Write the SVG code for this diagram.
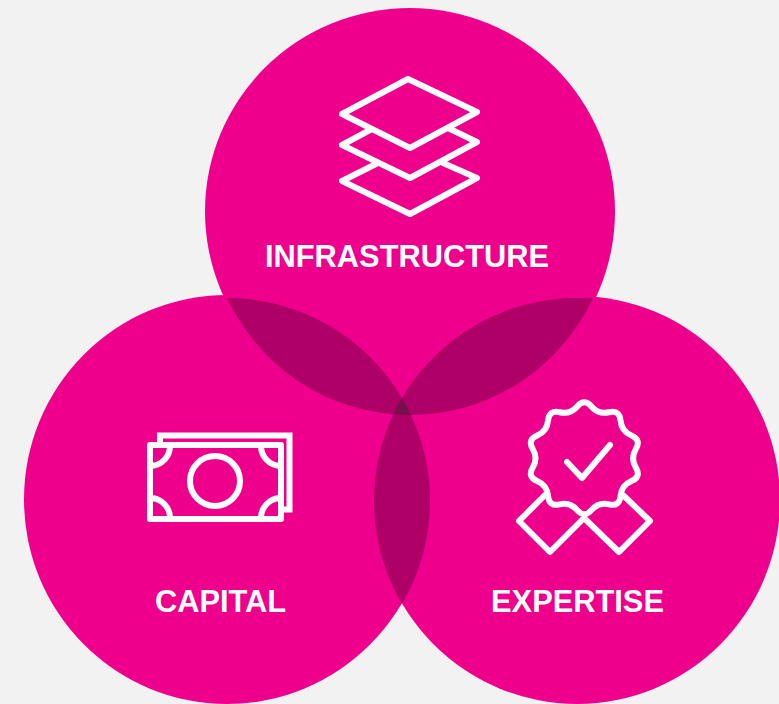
<svg xmlns="http://www.w3.org/2000/svg" width="779" height="704" viewBox="0 0 779 704">
<style>
.ic{fill:none;stroke:#fff;stroke-width:6;stroke-linejoin:round;stroke-linecap:round}
.bk{fill:none;stroke:#fff;stroke-width:6;stroke-linejoin:miter;stroke-linecap:butt}
.lb{font-family:"Liberation Sans",Arial,sans-serif;font-weight:700;font-size:30.8px;fill:#fff;text-anchor:middle}
.p{fill:#ee008c}
.d{fill:#ae0066}
</style>
<defs>
<clipPath id="cT"><ellipse cx="410" cy="211.5" rx="202" ry="203.5"/></clipPath>
<clipPath id="cL"><ellipse cx="227" cy="501" rx="203" ry="203"/></clipPath>
<clipPath id="cR"><ellipse cx="577" cy="501" rx="203" ry="203"/></clipPath>
</defs>
<rect width="779" height="704" fill="#f2f2f2"/>
<g id="circles">
<ellipse class="p" cx="410" cy="211.5" rx="205" ry="203.5"/>
<ellipse class="p" cx="227" cy="499.5" rx="203" ry="204.5"/>
<ellipse class="p" cx="577" cy="500" rx="203" ry="204"/>
</g>
<g id="overlaps">
<g clip-path="url(#cT)"><ellipse class="d" cx="227" cy="501" rx="203" ry="203"/><ellipse class="d" cx="577" cy="501" rx="203" ry="203"/></g>
<g clip-path="url(#cL)"><ellipse class="d" cx="577" cy="501" rx="203" ry="203"/></g>
<g clip-path="url(#cL)"><g clip-path="url(#cR)"><ellipse cx="410" cy="211.5" rx="205" ry="203.5" fill="#75104d"/></g></g>
</g>
<g id="infrastructure">
<path class="ic" d="M408 79L477 112L410 148L342 114Z"/>
<path class="ic" d="M370 130L342 145L410 178L477 142L448 128"/>
<path class="ic" d="M376 164L342 181L410 214L477 178L443 163"/>
<text class="lb" x="407" y="267">INFRASTRUCTURE</text>
</g>
<g id="capital">
<path class="bk" d="M160 445V435.500H289.500V509.500H281"/>
<rect class="ic" x="150" y="445" width="131" height="74"/>
<circle class="ic" cx="215" cy="481" r="25"/>
<path class="ic" d="M170 446A20 20 0 0 1 151 466M261 446A20 20 0 0 0 280 466M170 518A20 20 0 0 0 151 498M261 518A20 20 0 0 1 280 498"/>
<text class="lb" x="220.500" y="612">CAPITAL</text>
</g>
<g id="expertise">
<path class="ic" transform="translate(584.3 458.3)" d="M-7.1 -51.85Q0 -60 7.1 -51.85Q14.2 -43.7 24.75 -46.1Q35.3 -48.5 36.25 -37.75Q37.2 -27 47.15 -22.75Q57.1 -18.5 51.55 -9.25Q46 0 51.55 9.25Q57.1 18.5 47.15 22.75Q37.2 27 36.25 37.75Q35.3 48.5 24.75 46.1Q14.2 43.7 7.1 51.85Q0 60 -7.1 51.85Q-14.2 43.7 -24.75 46.1Q-35.3 48.5 -36.25 37.75Q-37.2 27 -47.15 22.75Q-57.1 18.5 -51.55 9.25Q-46 0 -51.55 -9.25Q-57.1 -18.5 -47.15 -22.75Q-37.2 -27 -36.25 -37.75Q-35.3 -48.5 -24.75 -46.1Q-14.2 -43.7 -7.1 -51.85Z"/>
<path class="ic" d="M567 462L582 478L610 445"/>
<path class="ic" d="M545 495L519 521L550 552L584 518L619 552L650 521L624 496"/>
<text class="lb" x="577.500" y="612">EXPERTISE</text>
</g>
</svg>
